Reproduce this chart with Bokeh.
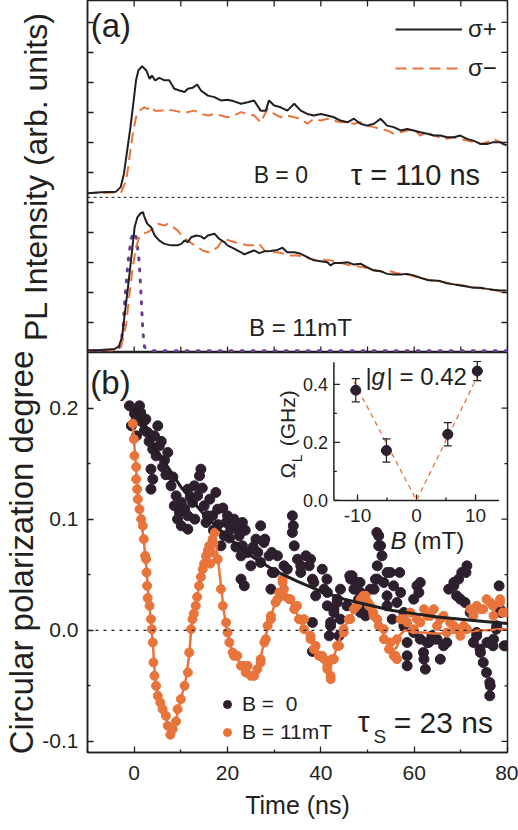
import math
from bokeh.plotting import figure
from bokeh.models import (Range1d, FixedTicker, Span, Label, Legend, LegendItem, Title,
                          NumeralTickFormatter, CustomJSTickFormatter)
from bokeh.layouts import column
from bokeh.embed import file_html
from bokeh.resources import INLINE
from bokeh.core.properties import value

FONT = "Liberation Sans"
INK = "#231f20"
ORANGE = "#e8743b"
DARK = "#2d1f2e"
PURPLE = "#6b3f8c"

# ---------------- panel (a): PL transients (arb. units) ----------------
t_plus_B0 = [-10.0, -7.1, -3.9, -2.9, -2.2, -1.5, -0.8, -0.1, 0.4, 0.9, 1.7, 2.6, 3.3, 3.8, 4.5, 5.4, 6.5, 7.5, 8.6, 9.7,
             10.8, 11.5, 12.5, 13.5, 14.3, 15.8, 17.2, 18.6, 20.0, 21.4, 22.9, 24.3, 25.7, 27.1, 28.2, 28.9, 30.0, 31.4, 32.8, 34.3,
             35.7, 37.1, 38.5, 40.0, 41.4, 42.8, 44.2, 45.7, 47.1, 48.5, 49.9, 51.4, 52.8, 54.2, 55.6, 57.1, 58.5, 59.9, 61.3, 62.8,
             64.2, 65.6, 67.0, 68.5, 69.9, 71.3, 72.7, 74.2, 75.6, 77.0, 78.4, 79.8]
I_plus_B0 = [5.31, 5.34, 5.36, 5.51, 5.95, 6.73, 7.51, 8.40, 9.07, 9.40, 9.54, 9.40, 9.12, 9.23, 9.07, 9.15, 9.07, 9.07, 8.79, 8.73,
             8.68, 8.79, 8.82, 8.93, 8.73, 8.56, 8.51, 8.40, 8.42, 8.37, 8.29, 8.34, 8.40, 8.06, 8.06, 8.40, 8.23, 8.17, 8.06, 8.29,
             8.06, 7.95, 7.90, 7.95, 7.90, 7.84, 7.73, 7.67, 7.79, 7.62, 7.56, 7.62, 7.79, 7.56, 7.51, 7.40, 7.45, 7.40, 7.34, 7.29,
             7.23, 7.23, 7.17, 7.17, 7.23, 7.12, 7.06, 6.95, 6.95, 7.01, 7.01, 6.90]
t_minus_B0 = [-10.2, -2.8, -1.7, -1.0, -0.3, 0.4, 1.1, 2.2, 2.9, 3.6, 4.4, 5.8, 7.2, 8.6, 10.1, 11.5, 12.9, 14.3, 15.8, 17.2,
              18.6, 20.0, 21.4, 22.9, 24.3, 25.7, 27.1, 28.6, 30.0, 31.4, 32.8, 34.3, 35.7, 37.1, 38.5, 40.0, 41.4, 42.8, 44.2, 45.7,
              47.1, 48.5, 49.9, 51.4, 52.8, 54.2, 55.6, 57.1, 58.5, 59.9, 61.3, 62.8, 64.2, 65.6, 67.0, 68.5, 69.9, 71.3, 72.7, 74.2,
              75.6, 77.0, 78.4, 79.8]
I_minus_B0 = [5.31, 5.34, 5.73, 6.51, 7.29, 7.84, 8.06, 8.17, 8.12, 8.20, 8.06, 8.06, 8.09, 8.06, 8.01, 8.01, 8.06, 7.95, 7.90, 7.95,
              7.90, 7.84, 7.90, 8.01, 7.95, 7.90, 7.67, 8.12, 7.95, 7.84, 7.90, 7.84, 7.79, 7.62, 7.79, 7.73, 7.79, 7.73, 7.67, 7.67,
              7.62, 7.67, 7.56, 7.51, 7.45, 7.40, 7.29, 7.34, 7.40, 7.45, 7.23, 7.34, 7.23, 7.17, 7.12, 7.17, 7.12, 7.06, 7.01, 6.95,
              7.01, 7.12, 7.01, 6.84]
t_plus_B11 = [-10.2, -7.1, -4.2, -3.3, -2.6, -2.1, -1.4, -0.6, 0.1, 0.7, 1.4, 1.9, 2.2, 2.8, 3.6, 4.4, 5.4, 6.5, 7.9, 9.3,
              10.1, 10.8, 11.5, 12.2, 13.3, 14.3, 15.0, 15.8, 17.2, 18.2, 19.3, 20.0, 21.4, 22.9, 23.6, 24.7, 25.7, 26.8, 27.9, 29.3,
              30.7, 31.8, 32.8, 34.3, 35.7, 37.1, 38.5, 40.0, 41.4, 42.1, 42.8, 44.2, 45.7, 47.1, 48.5, 49.9, 51.4, 52.8, 54.2, 55.6,
              57.1, 58.5, 59.9, 61.3, 62.8, 64.2, 65.6, 67.0, 68.5, 69.9, 71.3, 72.7, 74.2, 75.6, 77.0, 78.4, 79.8]
I_plus_B11 = [0.07, 0.08, 0.12, 0.20, 0.51, 1.18, 2.07, 3.18, 4.18, 4.51, 4.64, 4.68, 4.51, 4.29, 4.18, 3.90, 3.73, 3.62, 3.57, 3.57,
              3.62, 3.73, 3.68, 3.84, 3.90, 3.87, 3.79, 3.90, 3.96, 3.79, 3.68, 3.57, 3.46, 3.34, 3.27, 3.34, 3.40, 3.31, 3.37, 3.38,
              3.42, 3.49, 3.34, 3.34, 3.29, 3.18, 3.07, 3.04, 3.01, 2.90, 2.98, 2.98, 3.01, 2.93, 2.96, 2.84, 2.73, 2.71, 2.62, 2.60,
              2.60, 2.62, 2.57, 2.49, 2.42, 2.40, 2.38, 2.31, 2.27, 2.23, 2.20, 2.16, 2.16, 2.12, 2.09, 2.07, 2.07]
t_minus_B11 = [-10.2, -4.2, -2.8, -1.7, -1.0, -0.3, 0.4, 1.1, 1.9, 2.9, 4.0, 5.1, 6.5, 7.2, 8.3, 9.3, 10.4, 11.5, 12.5, 13.6,
               14.7, 15.8, 16.8, 17.9, 18.6, 19.3, 20.4, 21.4, 22.9, 24.3, 25.7, 26.8, 27.9, 29.3, 30.7, 32.1, 33.6, 35.0, 36.4, 37.8,
               39.3, 40.7, 42.1, 43.5, 45.0, 46.4, 47.8, 49.2, 50.6, 52.1, 53.5, 54.9, 56.3, 57.8, 59.2, 60.6, 62.0, 63.5, 64.9, 66.3,
               67.7, 69.2, 70.6, 72.0, 73.4, 74.9, 76.3, 77.7, 79.1, 79.8]
I_minus_B11 = [0.07, 0.08, 0.18, 0.96, 1.96, 2.84, 3.51, 3.84, 3.96, 4.01, 4.12, 4.29, 4.23, 4.29, 4.18, 4.07, 3.84, 3.73, 3.62, 3.51,
               3.40, 3.34, 3.40, 3.51, 3.68, 3.79, 3.73, 3.68, 3.62, 3.57, 3.57, 3.62, 3.40, 3.34, 3.34, 3.29, 3.23, 3.23, 3.18, 3.12,
               3.07, 3.09, 3.07, 3.01, 2.96, 2.90, 2.87, 2.84, 2.79, 2.73, 2.68, 2.71, 2.64, 2.62, 2.57, 2.51, 2.46, 2.40, 2.38, 2.34,
               2.31, 2.27, 2.23, 2.20, 2.16, 2.12, 2.09, 2.07, 2.01, 2.04]
t_laser = [-10.0, -4.2, -3.1, -2.4, -2.1, -1.35, -0.64, 0.0, 0.5, 1.1, 1.5, 1.85, 2.2, 3.6, 80.0]
I_laser = [0.06, 0.06, 0.18, 0.73, 1.51, 2.97, 3.80, 4.01, 3.80, 2.97, 1.84, 0.73, 0.18, 0.06, 0.06]
offset_B0 = 5.17          # baseline of the B = 0 traces (dashed separator)
a_yrange = (0.0, 11.73)
a_yticks = [1, 2, 3, 4, 5, 6, 7, 8, 9, 10, 11]
time_range = (-10, 80)
time_ticks = [0, 20, 40, 60, 80]
time_minor = [-10, 10, 30, 50, 70]
time_ticks_a = [0, 10, 20, 30, 40, 50, 60, 70, 80]

# ---------------- panel (b): circular polarization degree ----------------
t_B0 = [-1.0, 0.07, 1.14, 1.4, -0.6, 0.4, 1.85, 2.2, 2.9, 5.06, 4.35, 3.98, 5.4, 4.7, 7.2, 6.5, 6.1, 3.6, 4.0, 3.6,
        14.3, 14.0, 12.9, 11.5, 7.9, 9.0, 10.1, 9.7, 10.8, 11.5, 10.1, 11.5, 12.5, 13.6, 15.0, 15.7, 17.5, 16.8, 15.4, 17.9,
        20.0, 19.7, 21.4, 20.7, 22.5, 23.2, 21.8, 19.3, 18.6, 24.3, 0.5, 2.5, 3.2, 5.8, 6.8, 8.3, 8.6, 9.3, 12.0, 13.0,
        14.6, 16.2, 17.0, 18.0, 19.0, 20.4, 22.0, 23.8, 25.5, 26.5, 23.2, 22.9, 23.6, 25.0, 26.1, 27.1, 27.8, 28.9, 29.6, 29.3,
        30.7, 32.1, 33.9, 34.1, 33.9, 34.3, 35.0, 35.7, 36.8, 37.5, 38.2, 38.9, 38.2, 38.2, 40.7, 41.4, 42.1, 41.8, 42.8, 43.5,
        44.2, 43.9, 45.6, 46.7, 47.7, 48.1, 48.5, 49.6, 50.6, 51.7, 52.0, 52.4, 22.9, 28.0, 29.5, 27.1, 30.0, 32.8, 35.7, 37.8,
        38.5, 41.4, 42.8, 42.1, 43.5, 44.2, 46.4, 47.1, 48.5, 49.9, 40.3, 41.3, 46.2, 48.4, 52.4, 52.8, 53.1, 52.1, 52.1, 51.4,
        53.5, 54.9, 55.6, 54.2, 56.3, 57.8, 57.8, 58.5, 58.5, 60.6, 61.0, 59.9, 61.3, 62.0, 62.4, 63.1, 63.8, 64.9, 66.3, 67.4,
        68.5, 69.5, 70.2, 71.3, 69.1, 70.9, 72.0, 73.4, 74.1, 74.8, 75.5, 76.2, 76.2, 76.9, 77.6, 78.6, 79.3, 54.2, 56.9, 57.1,
        58.5, 59.9, 61.3, 62.8, 62.1, 64.2, 65.6, 67.0, 68.5, 69.9, 71.1, 72.7, 74.2, 75.6, 77.0, 77.7, 78.4, 78.2, 79.8, 76.3,
        73.4, 55.3, 54.2]
P_B0 = [0.202, 0.195, 0.202, 0.196, 0.184, 0.189, 0.187, 0.180, 0.178, 0.184, 0.175, 0.163, 0.166, 0.157, 0.160, 0.153, 0.147, 0.145, 0.136, 0.127,
        0.145, 0.139, 0.130, 0.127, 0.130, 0.121, 0.115, 0.106, 0.109, 0.103, 0.094, 0.091, 0.115, 0.121, 0.112, 0.103, 0.124, 0.103, 0.097, 0.109,
        0.103, 0.097, 0.100, 0.091, 0.085, 0.076, 0.075, 0.085, 0.076, 0.070, 0.175, 0.190, 0.170, 0.170, 0.140, 0.138, 0.112, 0.100, 0.120, 0.100,
        0.128, 0.118, 0.090, 0.095, 0.110, 0.083, 0.092, 0.090, 0.075, 0.070, 0.097, 0.067, 0.040, 0.058, 0.082, 0.094, 0.079, 0.067, 0.052, 0.037,
        0.067, 0.058, 0.103, 0.094, 0.088, 0.076, 0.064, 0.052, 0.067, 0.058, 0.046, 0.031, 0.007, -0.019, 0.037, 0.022, 0.007, -0.005, 0.016, 0.028,
        0.010, -0.005, 0.022, 0.049, 0.043, 0.028, 0.016, 0.013, 0.037, 0.046, 0.088, 0.076, 0.046, 0.082, 0.070, 0.061, 0.052, 0.055, 0.058, 0.064,
        0.043, 0.034, 0.019, 0.004, 0.025, 0.037, 0.046, 0.037, 0.034, 0.022, 0.055, 0.046, 0.049, 0.043, 0.085, 0.076, 0.067, 0.058, 0.046, 0.037,
        0.043, 0.052, 0.040, 0.031, 0.025, 0.016, 0.004, -0.023, -0.032, 0.040, 0.034, 0.028, -0.008, -0.020, -0.035, -0.011, -0.005, -0.008, -0.014, 0.037,
        0.043, 0.046, 0.052, 0.058, 0.031, 0.025, 0.016, -0.002, -0.017, -0.029, -0.038, -0.047, -0.059, -0.014, 0.001, 0.016, -0.014, 0.052, 0.052, 0.034,
        -0.011, -0.002, 0.043, -0.011, -0.026, -0.008, -0.026, -0.011, 0.040, 0.028, 0.052, -0.011, -0.020, -0.011, -0.008, 0.004, 0.019, 0.040, -0.014, -0.050,
        -0.005, 0.010, 0.022]
t_B11 = [-0.3, -0.07, 0.07, 0.43, 0.43, 0.64, 0.78, 1.14, 1.5, 1.85, 2.06, 2.35, 2.56, 2.65, 2.77, 2.9, 3.3, 3.6, 3.78, 4.0,
         4.13, 4.35, 4.7, 5.06, 5.6, 6.1, 6.8, 7.2, 7.76, 8.26, 8.97, 9.3, 10.0, 10.8, 11.5, 11.8, 12.2, 12.5, 12.8, 13.2,
         13.5, 13.9, 14.3, 14.7, 15.0, 15.4, 15.8, 16.1, 16.3, 16.5, 16.8, 17.0, 17.3, 17.9, 18.6, 19.0, 19.7, 20.0, 20.4, 21.1,
         21.4, 22.1, 22.9, 23.6, 23.9, 24.3, 25.0, 25.7, 26.4, 27.1, 27.1, 27.9, 28.2, 28.6, 29.3, 29.3, 30.3, 30.7, 31.1, 31.8,
         31.8, 32.1, 32.1, 33.2, 33.5, 34.3, 34.9, 35.3, 36.4, 36.4, 37.8, 37.8, 38.5, 38.9, 39.6, 40.3, 40.7, 41.4, 41.4, 42.1,
         42.1, 42.4, 42.8, 43.5, 43.9, 44.9, 44.9, 46.0, 46.3, 47.1, 47.7, 48.5, 49.1, 49.6, 50.1, 50.3, 50.6, 51.2, 51.3, 52.1,
         52.4, 53.5, 53.5, 54.6, 54.9, 55.6, 56.0, 56.3, 56.3, 57.1, 57.8, 58.5, 59.2, 59.9, 60.6, 61.3, 62.1, 62.8, 63.5, 64.2,
         64.9, 65.6, 66.3, 67.0, 67.7, 68.5, 69.1, 69.9, 70.6, 71.3, 72.0, 72.7, 73.4, 74.1, 74.8, 75.5, 76.3, 76.9, 77.0, 78.4,
         78.4, 79.0, 79.8]
P_B11 = [0.186, 0.172, 0.157, 0.147, 0.136, 0.127, 0.118, 0.109, 0.100, 0.094, 0.082, 0.067, 0.064, 0.052, 0.040, 0.029, 0.022, 0.010, 0.001, -0.011,
         -0.029, -0.041, -0.050, -0.059, -0.065, -0.071, -0.077, -0.086, -0.094, -0.089, -0.082, -0.071, -0.062, -0.050, -0.038, -0.020, 0.001, 0.010, 0.015, 0.022,
         0.030, 0.040, 0.048, 0.055, 0.060, 0.067, 0.072, 0.076, 0.060, 0.070, 0.082, 0.078, 0.088, 0.064, 0.037, 0.022, 0.007, -0.002, -0.011, -0.020,
         -0.023, -0.023, -0.032, -0.032, -0.038, -0.032, -0.041, -0.041, -0.035, -0.026, -0.029, -0.011, -0.008, 0.004, 0.010, 0.013, 0.025, 0.028, 0.034, 0.043,
         0.046, 0.031, 0.037, 0.028, 0.028, 0.019, 0.022, 0.010, 0.001, 0.010, -0.005, -0.008, -0.017, -0.014, -0.023, -0.023, -0.026, -0.032, -0.035, -0.041,
         -0.044, -0.026, -0.026, -0.014, -0.014, -0.002, 0.001, 0.010, 0.010, 0.019, 0.022, 0.028, 0.031, 0.031, 0.025, 0.022, 0.022, 0.016, 0.013, 0.010,
         0.004, 0.001, -0.008, -0.017, -0.011, -0.023, -0.023, -0.026, -0.008, 0.010, 0.010, 0.007, 0.016, 0.001, 0.010, 0.007, 0.019, 0.013, 0.013, 0.019,
         0.004, 0.010, 0.013, -0.002, 0.007, 0.004, 0.001, -0.005, 0.004, 0.001, 0.019, 0.013, 0.022, 0.019, 0.019, 0.028, 0.025, 0.022, 0.013, 0.025,
         0.028, 0.016, 0.016]
t_fit_B0 = [0, 5, 10, 15, 20, 25, 30, 35, 40, 45, 50, 55, 60, 65, 70, 75, 80]
P_fit_B0 = [0.200, 0.161, 0.129, 0.104, 0.084, 0.067, 0.054, 0.044, 0.035, 0.028, 0.023, 0.018, 0.015, 0.012, 0.010, 0.008, 0.006]
t_fit_B11 = [-0.3, 0.5, 1.0, 1.5, 2.0, 2.5, 3.0, 3.5, 4.0, 4.5, 5.0, 5.5, 6.0, 7.0, 7.8, 8.3, 9.0, 10.0, 11.0, 11.8,
             12.2, 13.0, 14.0, 15.0, 16.0, 17.0, 17.5, 18.0, 18.6, 19.3, 20.0, 21.0, 22.0, 23.0, 24.0, 25.0, 26.0, 27.0, 28.0, 29.0,
             30.0, 31.0, 32.0, 33.0, 34.0, 35.0, 36.0, 37.0, 38.0, 39.0, 40.0, 41.0, 41.8, 42.5, 43.5, 44.5, 45.5, 46.5, 47.5, 48.5,
             49.5, 50.5, 51.5, 52.5, 53.5, 54.5, 55.5, 56.3, 57.0, 58.0, 60.0, 62.0, 64.0, 66.0, 68.0, 70.0, 72.0, 74.0, 76.0, 78.0, 80.0]
P_fit_B11 = [0.186, 0.140, 0.115, 0.098, 0.083, 0.062, 0.035, 0.012, -0.012, -0.043, -0.057, -0.064, -0.070, -0.082, -0.094, -0.090, -0.080, -0.062, -0.046, -0.022,
             0.000, 0.020, 0.042, 0.061, 0.075, 0.082, 0.080, 0.062, 0.040, 0.015, -0.002, -0.019, -0.025, -0.032, -0.036, -0.040, -0.036, -0.026, -0.008, 0.008,
             0.022, 0.033, 0.036, 0.030, 0.021, 0.014, 0.004, -0.003, -0.010, -0.018, -0.024, -0.031, -0.036, -0.028, -0.014, -0.003, 0.006, 0.013, 0.020, 0.027,
             0.029, 0.022, 0.014, 0.005, -0.004, -0.012, -0.018, -0.015, -0.004, 0.000, -0.002, -0.002, -0.003, -0.003, -0.002, -0.002, -0.001, 0.000, 0.000, 0.001, 0.001]
b_yrange = (-0.11, 0.25)
b_yticks = [-0.1, 0.0, 0.1, 0.2]
b_yminor = [-0.05, 0.05, 0.15]

# ---------------- inset: Larmor frequency vs field ----------------
B_pts = [-10.3, -5.1, 5.3, 10.3]
W_pts = [0.380, 0.172, 0.228, 0.446]
W_err = [0.040, 0.040, 0.040, 0.033]
B_err = [0.9, 0.9, 0.9, 0.9]
B_fit = [-10.6, 0.0, 10.4]
W_fit = [0.410, 0.000, 0.430]
inset_B = (-14.0, 14.0)
inset_W = (0.0, 0.476)
inset_xticks = [-10, 0, 10]
inset_xminor = [-5, 5]
inset_yticks = [0.0, 0.2, 0.4]
inset_yminor = [0.1, 0.3]
inset_xlabels = ["-10", "0", "10"]
inset_ylabels = ["0.0", "0.2", "0.4"]

FW = 420          # frame width (px)
FH_A = 352        # frame height panel (a)
FH_B = 400        # frame height panel (b)
px_per_t = FW / (time_range[1] - time_range[0])
px_per_a = FH_A / (a_yrange[1] - a_yrange[0])
px_per_b = FH_B / (b_yrange[1] - b_yrange[0])


def style_axis(ax, ticks, minor=(), fs="21px"):
    ax.ticker = FixedTicker(ticks=list(ticks), minor_ticks=list(minor))
    ax.axis_line_color = INK
    ax.axis_line_width = 1.5
    ax.major_tick_in = 6
    ax.major_tick_out = 0
    ax.minor_tick_in = 3
    ax.minor_tick_out = 0
    ax.major_tick_line_color = INK
    ax.minor_tick_line_color = INK
    ax.major_tick_line_width = 1.3
    ax.minor_tick_line_width = 1.3
    ax.major_label_text_font = FONT
    ax.major_label_text_color = INK
    ax.major_label_text_font_size = fs
    ax.axis_label_text_font = FONT
    ax.axis_label_text_font_style = "normal"
    ax.axis_label_text_color = INK


def lab(p, x, y, text, size, align="left", baseline="middle", style="normal", angle=0.0,
        xr="default", yr="default"):
    p.add_layout(Label(x=x, y=y, text=text, text_font=FONT, text_font_size=size, text_align=align,
                       text_baseline=baseline, text_font_style=style, angle=angle, text_color=INK,
                       x_range_name=xr, y_range_name=yr))


def side_title(p, text, size, standoff, offset):
    p.add_layout(Title(text=text, align="center", text_font=FONT, text_font_size=size, text_font_style="normal",
                       text_color=INK, standoff=standoff, offset=offset), "left")


def right_ticks(p, ticks, length_px):
    p.segment(x0=[time_range[1]] * len(ticks), y0=ticks,
              x1=[time_range[1] - length_px / px_per_t] * len(ticks), y1=ticks,
              line_color=INK, line_width=1.3)


def hticks(p, ticks, y_edge, direction, length_px, px_per_y):
    p.segment(x0=ticks, y0=[y_edge] * len(ticks), x1=ticks,
              y1=[y_edge + direction * length_px / px_per_y] * len(ticks), line_color=INK, line_width=1.3)


# ================= panel (a) =================
pa = figure(frame_width=FW, frame_height=FH_A, x_range=Range1d(*time_range), y_range=Range1d(*a_yrange),
            x_axis_location=None, y_axis_location="left", toolbar_location=None, output_backend="svg",
            min_border_left=87, min_border_right=11, min_border_top=0, min_border_bottom=0,
            y_axis_label="PL Intensity (arb. units)")
pa.xgrid.visible = False
pa.ygrid.visible = False
pa.outline_line_color = INK
pa.outline_line_width = 1.5
axl = pa.yaxis[0]
style_axis(axl, a_yticks)
axl.formatter = CustomJSTickFormatter(code="return ''")
axl.major_label_text_font_size = "1px"
axl.major_label_standoff = 0
axl.axis_label_text_font_size = "32px"
axl.axis_label_standoff = 34

right_ticks(pa, a_yticks, 6)
hticks(pa, time_ticks_a, a_yrange[1], -1, 6, px_per_a)
hticks(pa, time_ticks_a, a_yrange[0], 1, 6, px_per_a)

pa.add_layout(Span(location=offset_B0, dimension="width", line_color=INK, line_width=1, line_dash="3 3"))

pa.line(t_laser, I_laser, line_color=PURPLE, line_width=3, line_dash="2 9", line_cap="round")
r_minus = pa.line(t_minus_B0, I_minus_B0, line_color=ORANGE, line_width=2, line_dash="11 6")
pa.line(t_minus_B11, I_minus_B11, line_color=ORANGE, line_width=2, line_dash="11 6")
r_plus = pa.line(t_plus_B0, I_plus_B0, line_color=INK, line_width=2)
pa.line(t_plus_B11, I_plus_B11, line_color=INK, line_width=2)

leg_a = Legend(items=[LegendItem(label="σ+", renderers=[r_plus]), LegendItem(label="σ−", renderers=[r_minus])],
               location=(308, 269), padding=0, margin=0, spacing=9, glyph_width=67, glyph_height=30,
               label_standoff=6, label_text_font=FONT, label_text_font_size="24px", label_text_color=INK,
               background_fill_alpha=0, border_line_alpha=0)
pa.add_layout(leg_a)

lab(pa, -9.3, 10.9, "(a)", "33px")
lab(pa, 25.6, 5.9, "B = 0", "23px")
lab(pa, 46.4, 5.93, "τ = 110 ns", "29px")
lab(pa, 24.6, 0.83, "B = 11mT", "24px")

# ================= panel (b) =================
pb = figure(frame_width=FW, frame_height=FH_B, x_range=Range1d(*time_range), y_range=Range1d(*b_yrange),
            toolbar_location=None, output_backend="svg",
            min_border_left=87, min_border_right=11, min_border_top=0, min_border_bottom=78,
            x_axis_label="Time (ns)")
pb.xgrid.visible = False
pb.ygrid.visible = False
pb.outline_line_color = INK
pb.outline_line_width = 1.5

style_axis(pb.xaxis[0], time_ticks, time_minor, fs="21px")
pb.xaxis[0].major_label_standoff = 13
pb.xaxis[0].axis_label_text_font_size = "25px"
pb.xaxis[0].axis_label_standoff = 8
style_axis(pb.yaxis[0], b_yticks, b_yminor, fs="21px")
pb.yaxis[0].formatter = NumeralTickFormatter(format="0.0")
pb.yaxis[0].major_label_standoff = 9
side_title(pb, "Circular polarization degree", "33px", 0, -13)
right_ticks(pb, b_yticks, 6)
right_ticks(pb, b_yminor, 3)

pb.add_layout(Span(location=0, dimension="width", line_color=INK, line_width=1.3, line_dash="3 5"))

r_b0 = pb.scatter(t_B0, P_B0, size=10, marker="circle", fill_color=DARK, line_color=DARK)
r_b11 = pb.scatter(t_B11, P_B11, size=9, marker="circle", fill_color=ORANGE, line_color=ORANGE)
pb.line(t_fit_B11, P_fit_B11, line_color=ORANGE, line_width=2.5)
pb.line(t_fit_B0, P_fit_B0, line_color=INK, line_width=3)

leg_b = Legend(items=[LegendItem(label="B =  0", renderers=[r_b0]), LegendItem(label="B = 11mT", renderers=[r_b11])],
               location=(130, 8), padding=0, margin=0, spacing=4, glyph_width=20, glyph_height=22,
               label_standoff=5, label_text_font=FONT, label_text_font_size="21px", label_text_color=INK,
               background_fill_alpha=0, border_line_alpha=0)
pb.add_layout(leg_b)

lab(pb, -9.4, 0.223, "(b)", "33px")
lab(pb, 47.9, -0.082, "τ", "30px")
lab(pb, 51.3, -0.096, "S", "19px")
lab(pb, 55.6, -0.083, "= 23 ns", "30px")

# ---- inset drawn in its own ranges inside panel (b) ----
pb.extra_x_ranges = {"ix": Range1d(-55.76, 15.42)}
pb.extra_y_ranges = {"iy": Range1d(-0.869, 0.510)}
IX = dict(x_range_name="ix", y_range_name="iy")
px_per_B = FW / (15.42 + 55.76)
px_per_W = FH_B / (0.510 + 0.869)

pb.segment(x0=[inset_B[0], inset_B[0]], y0=[inset_W[0], inset_W[0]],
           x1=[inset_B[0], inset_B[1]], y1=[inset_W[1], inset_W[0]], line_color=INK, line_width=1.5, **IX)
yt_all = inset_yticks + inset_yminor
yt_len = [6 / px_per_B] * len(inset_yticks) + [3 / px_per_B] * len(inset_yminor)
pb.segment(x0=[inset_B[0]] * len(yt_all), y0=yt_all, x1=[inset_B[0] + L for L in yt_len], y1=yt_all,
           line_color=INK, line_width=1.3, **IX)
xt_all = inset_xticks + inset_xminor
xt_len = [6 / px_per_W] * len(inset_xticks) + [3 / px_per_W] * len(inset_xminor)
pb.segment(x0=xt_all, y0=[inset_W[0]] * len(xt_all), x1=xt_all, y1=[inset_W[0] + L for L in xt_len],
           line_color=INK, line_width=1.3, **IX)
pb.text(x=[inset_B[0] - 6 / px_per_B] * 3, y=inset_yticks, text=inset_ylabels, text_font=value(FONT),
        text_font_size="18px", text_align="right", text_baseline="middle", text_color=INK, **IX)
pb.text(x=inset_xticks, y=[inset_W[0] - 15 / px_per_W] * 3, text=inset_xlabels, text_font=value(FONT),
        text_font_size="19px", text_align="center", text_baseline="middle", text_color=INK, **IX)

pb.line(B_fit, W_fit, line_color=ORANGE, line_width=1.3, line_dash="5 4", **IX)
cap = 4 / px_per_B
pb.segment(x0=B_pts, y0=[w - e for w, e in zip(W_pts, W_err)], x1=B_pts, y1=[w + e for w, e in zip(W_pts, W_err)],
           line_color=INK, line_width=1.2, **IX)
pb.segment(x0=[b - cap for b in B_pts], y0=[w - e for w, e in zip(W_pts, W_err)],
           x1=[b + cap for b in B_pts], y1=[w - e for w, e in zip(W_pts, W_err)], line_color=INK, line_width=1.2, **IX)
pb.segment(x0=[b - cap for b in B_pts], y0=[w + e for w, e in zip(W_pts, W_err)],
           x1=[b + cap for b in B_pts], y1=[w + e for w, e in zip(W_pts, W_err)], line_color=INK, line_width=1.2, **IX)
pb.segment(x0=[b - e for b, e in zip(B_pts, B_err)], y0=W_pts, x1=[b + e for b, e in zip(B_pts, B_err)], y1=W_pts,
           line_color=INK, line_width=1.5, **IX)
pb.scatter(B_pts, W_pts, size=10, marker="circle", fill_color=DARK, line_color=DARK, **IX)

lab(pb, -8.64, 0.428, "|", "24px", xr="ix", yr="iy")
lab(pb, -7.63, 0.428, "g", "24px", style="italic", xr="ix", yr="iy")
lab(pb, -5.08, 0.428, "| = 0.42", "24px", xr="ix", yr="iy")
lab(pb, -4.4, -0.138, "B", "24px", style="italic", xr="ix", yr="iy")
lab(pb, -0.5, -0.138, "(mT)", "24px", xr="ix", yr="iy")
lab(pb, -21.9, 0.103, "Ω", "21px", align="center", angle=math.pi / 2, xr="ix", yr="iy")
lab(pb, -20.3, 0.145, "L", "14px", align="center", angle=math.pi / 2, xr="ix", yr="iy")
lab(pb, -21.9, 0.283, "(GHz)", "21px", align="center", angle=math.pi / 2, xr="ix", yr="iy")

layout = column(pa, pb, spacing=0)
open("out.html", "w").write(file_html(layout, INLINE))
